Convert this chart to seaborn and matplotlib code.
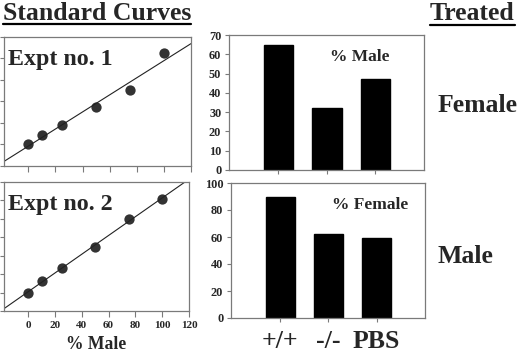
import matplotlib
matplotlib.use("Agg")
import matplotlib.pyplot as plt
from matplotlib.lines import Line2D
import seaborn as sns
import pandas as pd

# ---- data ----
std_pct = [0, 10, 25, 50, 75, 100]
expt1_signal = [1.02, 1.44, 1.90, 2.74, 3.53, 5.26]
expt2_signal = [1.00, 1.63, 2.33, 3.46, 4.98, 6.10]
genotypes = ["+/+", "-/-", "PBS"]
female_pct_male = [65, 32, 47]
male_pct_female = [90, 62, 59]
bar_yticks_top = [0, 10, 20, 30, 40, 50, 60, 70]
bar_yticks_bot = [0, 20, 40, 60, 80, 100]
std_xticks = [0, 20, 40, 60, 80, 100, 120]

sns.set_style("ticks")
plt.rcParams["font.family"] = ["Liberation Serif", "DejaVu Serif"]
plt.rcParams["font.weight"] = "bold"

W, H = 520, 356
fig = plt.figure(figsize=(W / 100, H / 100), dpi=100)


def ax_px(x0, y0, x1, y1):
    return fig.add_axes([x0 / W, 1 - y1 / H, (x1 - x0) / W, (y1 - y0) / H])


def ftext(x, y, s, size, **kw):
    return fig.text(x / W, 1 - y / H, s, fontsize=size, fontweight="bold",
                    va="baseline", **kw)


spine_col = "#7a7a7a"


def style_axes(ax):
    for sp in ax.spines.values():
        sp.set_visible(True)
        sp.set_color(spine_col)
        sp.set_linewidth(0.9)
    ax.tick_params(color=spine_col, width=0.8, length=3, direction="out")


# ---- standard curves ----
curves = [
    (ax_px(4, 37, 191, 166), expt1_signal, 6, "Expt no. 1", False),
    (ax_px(4, 182, 189, 311), expt2_signal, 7, "Expt no. 2", True),
]
for ax, sig, ymax, label, show_x in curves:
    ax.set_xlim(-18, 120)
    ax.set_ylim(0, ymax)
    df = pd.DataFrame({"pct": std_pct, "sig": sig})
    sns.regplot(data=df, x="pct", y="sig", ax=ax, ci=None, truncate=False,
                scatter_kws=dict(s=55, color="black", edgecolor="black", linewidths=0),
                line_kws=dict(color="#222222", lw=0.8))
    ax.set_xlim(-18, 120)
    ax.set_ylim(0, ymax)
    ax.set_xticks(std_xticks)
    ax.set_yticks(range(0, ymax + 1))
    ax.set_yticklabels([])
    ax.set_ylabel("")
    style_axes(ax)
    ax.tick_params(axis="x", length=4, pad=3)
    if show_x:
        ax.set_xticklabels([str(t) for t in std_xticks], fontweight="bold",
                           fontsize=8)
        ax.set_xlabel("% Male", fontsize=12.7, fontweight="bold", labelpad=4.5)
    else:
        ax.set_xticklabels([])
        ax.set_xlabel("")
    ax.text(0.02, 0.78, label, transform=ax.transAxes, fontsize=17.3,
            fontweight="bold", va="baseline")

# ---- bar panels ----
bars = [
    (ax_px(229, 35, 424, 170), female_pct_male, bar_yticks_top, "% Male", False),
    (ax_px(231, 183, 425, 318), male_pct_female, bar_yticks_bot, "% Female", True),
]
for ax, vals, yt, label, show_x in bars:
    df = pd.DataFrame({"g": genotypes, "v": vals})
    sns.barplot(data=df, x="g", y="v", order=genotypes, ax=ax, color="black",
                width=0.6, saturation=1, edgecolor="black")
    ax.set_xlim(-1.02, 3.0)
    ax.set_ylim(yt[0], yt[-1])
    ax.set_yticks(yt)
    ax.set_yticklabels([str(t) for t in yt], fontweight="bold", fontsize=8.8)
    ax.set_ylabel("")
    ax.set_xlabel("")
    style_axes(ax)
    ax.tick_params(axis="y", pad=2.5)
    ax.set_xticks(range(len(genotypes)))
    if show_x:
        ax.set_xticklabels(genotypes, fontsize=18.5, fontweight="bold")
        ax.tick_params(axis="x", pad=6)
    else:
        ax.set_xticklabels([])
    ax.text(0.52, 0.81, label, transform=ax.transAxes, fontsize=12.5,
            fontweight="bold", va="baseline")

# ---- headings ----
t1 = ftext(3, 19.5, "Standard Curves", 18.5)
t2 = ftext(430, 20, "Treated", 18.5)
ftext(438, 112, "Female", 18.5)
ftext(438, 263, "Male", 18.5)

fig.canvas.draw()
r = fig.canvas.get_renderer()
for t, yu in [(t1, 23.5), (t2, 24.5)]:
    bb = t.get_window_extent(r)
    fig.add_artist(Line2D([bb.x0 / W, bb.x1 / W], [1 - yu / H, 1 - yu / H],
                          transform=fig.transFigure, color="black", lw=1.6))

fig.savefig("out.png", dpi=100)
